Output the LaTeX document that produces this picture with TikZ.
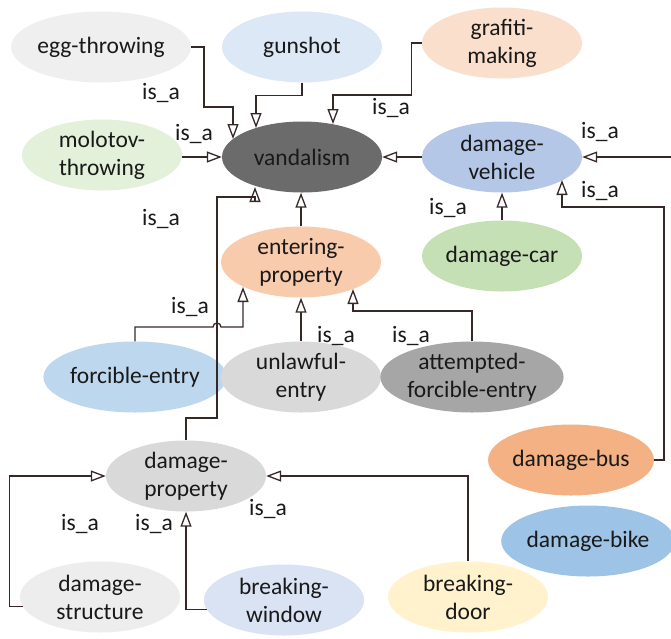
\documentclass[tikz,border=0pt]{standalone}
\usepackage{fontspec}
\setmainfont{Carlito}
\usetikzlibrary{shapes.geometric,arrows.meta,calc}
\definecolor{lnc}{RGB}{55,40,40}
\definecolor{cEgg}{HTML}{EFEFEF}
\definecolor{cGun}{HTML}{DCE8F5}
\definecolor{cGraf}{HTML}{FADFCD}
\definecolor{cMolo}{HTML}{E3F0DA}
\definecolor{cVand}{HTML}{6B6B6B}
\definecolor{cDveh}{HTML}{B4C7E7}
\definecolor{cCar}{HTML}{C5E0B4}
\definecolor{cEnt}{HTML}{F8CBAD}
\definecolor{cForc}{HTML}{BDD7EE}
\definecolor{cUnl}{HTML}{D9D9D9}
\definecolor{cAtt}{HTML}{A6A6A6}
\definecolor{cDprop}{HTML}{D9D9D9}
\definecolor{cBus}{HTML}{F4B183}
\definecolor{cBike}{HTML}{9DC3E6}
\definecolor{cDstr}{HTML}{EDEDED}
\definecolor{cBwin}{HTML}{DAE3F3}
\definecolor{cBdoor}{HTML}{FFF2CC}
\tikzset{
  concept/.style={ellipse, draw=none, minimum width=160pt, minimum height=71pt, inner sep=0pt,
    align=center, font=\fontsize{23.5}{28}\selectfont, text=black!90},
  isa/.style={draw=lnc, line width=1.3pt, -{Triangle[open, length=15pt, width=11pt]}},
  lbl/.style={font=\fontsize{23.5}{28}\selectfont, text=black!90, inner sep=0pt}
}
\begin{document}
\begin{tikzpicture}[x=1pt,y=-1pt]
\useasboundingbox (0,0) rectangle (671,638);
\clip (0,0) rectangle (671,638);
\fill[white] (0,0) rectangle (671,638);

% nodes
\node[concept, fill=cEgg] (egg) at (101,47) {egg-throwing};
\node[concept, fill=cGun] (gun) at (302,47) {gunshot};
\node[concept, fill=cGraf] (graf) at (502,43) {grafiti-\\making};
\node[concept, fill=cMolo] (molo) at (102,155) {molotov-\\throwing};
\node[concept, fill=cVand] (vand) at (302,157) {vandalism};
\node[concept, fill=cDveh] (dveh) at (502,157) {damage-\\vehicle};
\node[concept, fill=cCar] (car) at (502,256) {damage-car};
\node[concept, fill=cEnt] (ent) at (301,262) {entering-\\property};
\node[concept, fill=cForc] (forc) at (135,377) {forcible-entry};
\node[concept, fill=cUnl] (unl) at (301,377) {unlawful-\\entry};
\node[concept, fill=cAtt] (att) at (472,377) {attempted-\\forcible-entry};
\node[concept, fill=cDprop] (dprop) at (186,476) {damage-\\property};
\node[concept, fill=cBus] (bus) at (571,460) {damage-bus};
\node[concept, fill=cBike] (bike) at (588,541) {damage-bike};
\node[concept, fill=cDstr] (dstr) at (100,597) {damage-\\structure};
\node[concept, fill=cBwin] (bwin) at (284,600) {breaking-\\window};
\node[concept, fill=cBdoor] (bdoor) at (468,597) {breaking-\\door};

% connectors
\draw[isa] (egg.east) -- ++(13,0) |- ($(vand)+(-69,-50)$) -- ($(vand)+(-69,-18)$);
\draw[isa] (gun.south) -- ++(0,13) -| ($(vand)+(-46,-29)$);
\draw[isa] (graf.west) -- ++(-10,0) |- ($(vand)+(31,-62)$) -- ($(vand)+(31,-33)$);
\draw[isa] (molo.east |- vand.west) -- (vand.west);
\draw[isa] (dveh.west) -- (vand.east);
\draw[isa] (bus.east) -- ++(10,0) |- ($(dveh)+(60,50)$) -- ($(dveh)+(60,23)$);
\draw[isa] (bike.east) -- ++(30,0) |- (dveh.east);
\draw[isa] (car.north) -- (car.north |- dveh.south);
\draw[isa] (ent.north) -- (ent.north |- vand.south);
\draw[isa] (dprop.north) |- ($(dprop)+(31,-58)$) -- ($(dprop)+(31,-279)$) -| ($(vand)+(-47,30)$);
\draw[isa] (forc.north) |- ($(ent)+(-88,65)$) arc[start angle=180, end angle=360, radius=4] -- ($(ent)+(-58,65)$) -- ($(ent)+(-58,25)$);
\draw[isa] (unl.north) -- (unl.north |- ent.south);
\draw[isa] (att.north) |- ($(ent)+(52,49)$) -- ($(ent)+(52,27)$);
\draw[isa] (dstr.187) -- ++(-13,0) |- (dprop.west);
\draw[isa] (bwin.187) -| (dprop.south);
\draw[isa] (bdoor.north) |- (dprop.east);

% labels
\node[lbl] (l1) at (161,93) {is\_a};
\node[lbl] (l2) at (194,134) {is\_a};
\node[lbl] (l3) at (391,108) {is\_a};
\node[lbl] (l4) at (600,132) {is\_a};
\node[lbl] (l5) at (600,191) {is\_a};
\node[lbl] (l6) at (448,208) {is\_a};
\node[lbl] (l7) at (161,219) {is\_a};
\node[lbl] (l8) at (190,307) {is\_a};
\node[lbl] (l9) at (336,336) {is\_a};
\node[lbl] (l10) at (411,336) {is\_a};
\node[lbl] (l11) at (80,524) {is\_a};
\node[lbl] (l12) at (154,524) {is\_a};
\node[lbl] (l13) at (268,509) {is\_a};
\end{tikzpicture}
\end{document}
